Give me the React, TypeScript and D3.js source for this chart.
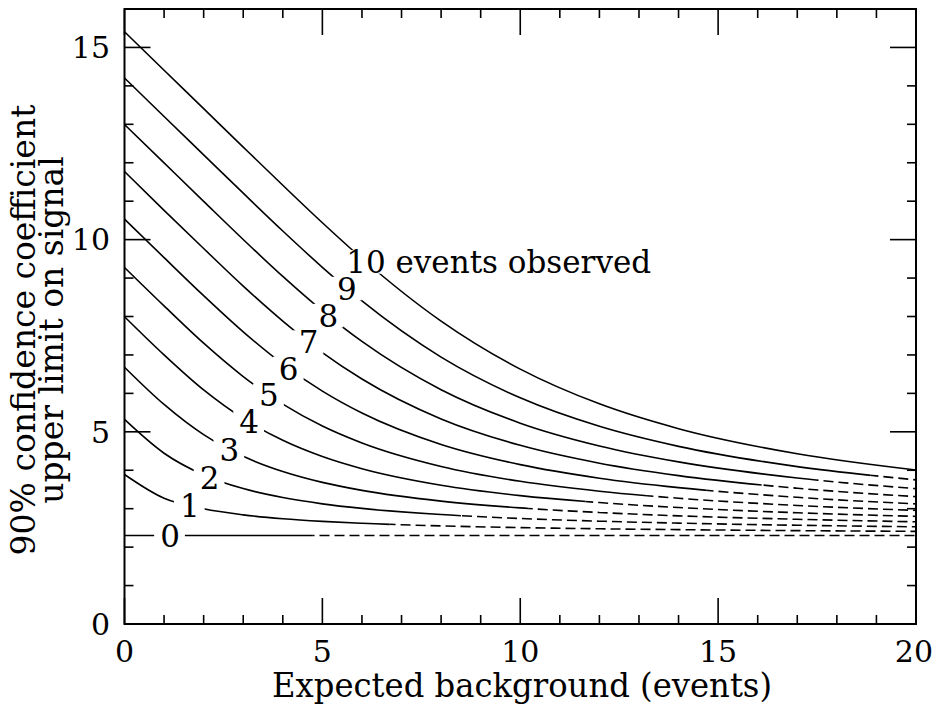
import React, { useEffect, useRef } from "react";
import * as d3 from "d3";

// Expected background b (events) at which each upper-limit curve is sampled
const backgrounds = [0, 1, 2, 3, 4, 5, 6, 8, 10, 12, 14, 17, 20];

// 90% C.L. upper limit on the signal for n0 = 0 … 10 observed events
const limitN0 = [2.303, 2.303, 2.303, 2.303, 2.303, 2.303, 2.303, 2.303, 2.303, 2.303, 2.303, 2.303, 2.303];
const limitN1 = [3.890, 3.272, 2.996, 2.839, 2.739, 2.671, 2.621, 2.552, 2.508, 2.477, 2.455, 2.429, 2.410];
const limitN2 = [5.322, 4.443, 3.878, 3.523, 3.289, 3.126, 3.007, 2.847, 2.745, 2.675, 2.624, 2.569, 2.529];
const limitN3 = [6.681, 5.712, 4.926, 4.362, 3.967, 3.684, 3.476, 3.197, 3.020, 2.901, 2.814, 2.724, 2.659];
const limitN4 = [7.994, 7.000, 6.088, 5.345, 4.779, 4.357, 4.040, 3.610, 3.340, 3.159, 3.030, 2.894, 2.800];
const limitN5 = [9.275, 8.275, 7.305, 6.438, 5.719, 5.150, 4.710, 4.099, 3.712, 3.454, 3.272, 3.084, 2.955];
const limitN6 = [10.532, 9.532, 8.541, 7.600, 6.762, 6.059, 5.489, 4.671, 4.146, 3.794, 3.549, 3.296, 3.125];
const limitN7 = [11.771, 10.762, 9.768, 8.790, 7.880, 7.061, 6.374, 5.335, 4.648, 4.184, 3.861, 3.532, 3.313];
const limitN8 = [12.995, 11.995, 10.996, 10.003, 9.042, 8.148, 7.351, 6.094, 5.225, 4.632, 4.217, 3.798, 3.521];
const limitN9 = [14.206, 13.204, 12.206, 11.208, 10.224, 9.280, 8.404, 6.943, 5.884, 5.143, 4.621, 4.095, 3.750];
const limitN10 = [15.407, 14.406, 13.407, 12.407, 11.414, 10.439, 9.509, 7.880, 6.630, 5.727, 5.081, 4.429, 4.006];

const limits = [limitN0, limitN1, limitN2, limitN3, limitN4, limitN5, limitN6, limitN7, limitN8, limitN9, limitN10];

// Background beyond which each curve is drawn dashed
const solidUntil = [4.76, 6.7, 8.5, 10.2, 11.65, 13.2, 14.7, 16.1, 17.5, 18.85, 20];

// Curve labels and the background where each one sits on its curve
const curveLabels = ["0", "1", "2", "3", "4", "5", "6", "7", "8", "9", "10 events observed"];
const labelAt = [1.15, 1.65, 2.15, 2.65, 3.15, 3.65, 4.15, 4.65, 5.15, 5.62, 6.1];

const xTicks = [0, 5, 10, 15, 20];
const yTicks = [0, 5, 10, 15];

const xTitle = "Expected background (events)";
const yTitleLines = ["90% confidence coefficient", "upper limit on signal"];

const W = 934;
const H = 706;
const FONT = "'DejaVu Serif', serif";

export default function App() {
  const ref = useRef<SVGSVGElement>(null);

  useEffect(() => {
    const svg = d3.select(ref.current);
    svg.selectAll("*").remove();

    const x = d3.scaleLinear().domain([0, 20]).range([124.5, 916]);
    const y = d3.scaleLinear().domain([0, 16]).range([624, 9]);

    const defs = svg.append("defs");

    // Tick marks on all four sides, pointing inward
    const tickG = svg.append("g").attr("stroke", "#000").attr("stroke-width", 1.6);
    d3.range(0, 21).forEach((v) => {
      const len = v % 5 === 0 ? 26 : 9;
      tickG.append("line").attr("x1", x(v)).attr("x2", x(v)).attr("y1", y(0)).attr("y2", y(0) - len);
      tickG.append("line").attr("x1", x(v)).attr("x2", x(v)).attr("y1", y(16)).attr("y2", y(16) + len);
    });
    d3.range(0, 17).forEach((v) => {
      const len = v % 5 === 0 ? 26 : 9;
      tickG.append("line").attr("x1", x(0)).attr("x2", x(0) + len).attr("y1", y(v)).attr("y2", y(v));
      tickG.append("line").attr("x1", x(20)).attr("x2", x(20) - len).attr("y1", y(v)).attr("y2", y(v));
    });

    // Curves: solid part, then dashed continuation
    const line = d3
      .line<[number, number]>()
      .x((d) => x(d[0]))
      .y((d) => y(d[1]))
      .curve(d3.curveMonotoneX);

    const curveG = svg.append("g").attr("fill", "none").attr("stroke", "#000").attr("stroke-width", 1.6);
    const solidNodes: SVGPathElement[] = [];

    limits.forEach((vals, i) => {
      const pts = backgrounds.map((b, j) => [b, vals[j]] as [number, number]);
      const d = line(pts) || "";
      const cut = x(solidUntil[i]);

      defs
        .append("clipPath")
        .attr("id", `solid-${i}`)
        .append("rect")
        .attr("x", x(0) - 2)
        .attr("y", 0)
        .attr("width", cut - x(0) + 2)
        .attr("height", H);
      defs
        .append("clipPath")
        .attr("id", `dash-${i}`)
        .append("rect")
        .attr("x", cut)
        .attr("y", 0)
        .attr("width", Math.max(0, x(20) - cut))
        .attr("height", H);

      const solid = curveG.append("path").attr("d", d).attr("clip-path", `url(#solid-${i})`);
      solidNodes.push(solid.node() as SVGPathElement);
      if (solidUntil[i] < 20) {
        curveG
          .append("path")
          .attr("d", d)
          .attr("stroke-dasharray", "10 5")
          .attr("clip-path", `url(#dash-${i})`);
      }
    });

    // Frame
    svg
      .append("rect")
      .attr("x", x(0))
      .attr("y", y(16))
      .attr("width", x(20) - x(0))
      .attr("height", y(0) - y(16))
      .attr("fill", "none")
      .attr("stroke", "#000")
      .attr("stroke-width", 2);

    // Point on a path at a given screen x (binary search along its length)
    const pointAtX = (node: SVGPathElement, px: number) => {
      let lo = 0;
      let hi = node.getTotalLength();
      for (let k = 0; k < 40; k++) {
        const mid = (lo + hi) / 2;
        if (node.getPointAtLength(mid).x < px) lo = mid;
        else hi = mid;
      }
      return node.getPointAtLength((lo + hi) / 2);
    };

    // Curve labels with a white knock-out behind them
    const fs = 31;
    const labelG = svg.append("g");
    curveLabels.forEach((txt, i) => {
      const px = x(labelAt[i]);
      const p = pointAtX(solidNodes[i], px);
      const bg = labelG.append("rect").attr("fill", "#fff");
      const t = labelG
        .append("text")
        .attr("font-family", FONT)
        .attr("font-size", fs)
        .attr("fill", "#000")
        .attr("x", px)
        .attr("y", p.y + 0.36 * fs)
        .text(txt);
      const node = t.node() as SVGTextElement;
      const numLen = txt.split(" ")[0].length;
      const wNum = node.getSubStringLength(0, numLen);
      t.attr("x", px - wNum / 2);
      bg.attr("x", px - wNum / 2 - 6)
        .attr("y", p.y - 0.38 * fs)
        .attr("width", wNum + 11)
        .attr("height", 0.76 * fs);
    });

    // Tick labels (kept inside the drawing at the right edge)
    const tl = svg.append("g").attr("font-family", FONT).attr("font-size", 30).attr("fill", "#000");
    xTicks.forEach((v) => {
      const t = tl.append("text").attr("y", 662).attr("text-anchor", "middle").text(String(v));
      const w = (t.node() as SVGTextElement).getComputedTextLength();
      t.attr("x", Math.min(x(v), W - w / 2 - 1));
    });
    yTicks.forEach((v) => {
      tl.append("text")
        .attr("x", 110)
        .attr("y", y(v) + 0.36 * 30)
        .attr("text-anchor", "end")
        .text(String(v));
    });

    // Axis titles
    svg
      .append("text")
      .attr("font-family", FONT)
      .attr("font-size", 33)
      .attr("x", 522)
      .attr("y", 697)
      .attr("text-anchor", "middle")
      .attr("textLength", 500)
      .attr("lengthAdjust", "spacingAndGlyphs")
      .text(xTitle);

    const yt = svg.append("g").attr("transform", "translate(0,330) rotate(-90)");
    yTitleLines.forEach((s, i) => {
      yt.append("text")
        .attr("font-family", FONT)
        .attr("font-size", 33)
        .attr("x", 0)
        .attr("y", i === 0 ? 35 : 63)
        .attr("text-anchor", "middle")
        .text(s);
    });
  }, []);

  return (
    <svg
      ref={ref}
      width={W}
      height={H}
      viewBox={`0 0 ${W} ${H}`}
      style={{ position: "absolute", left: 0, top: 0, background: "#fff" }}
    />
  );
}
